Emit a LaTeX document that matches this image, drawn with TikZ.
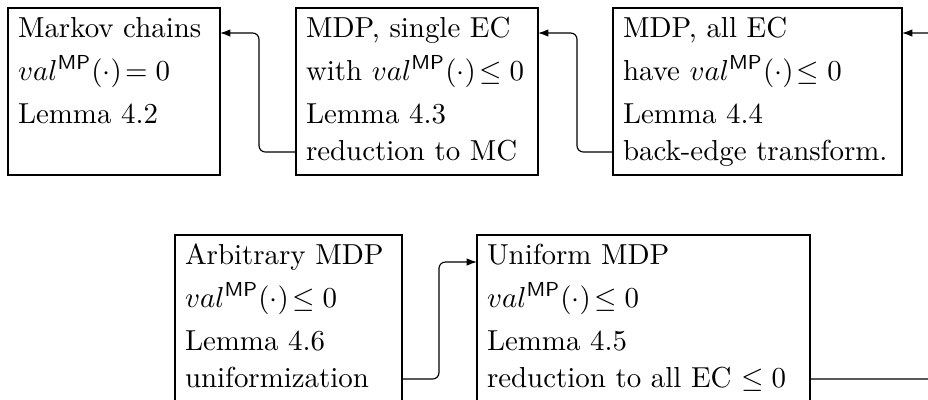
\documentclass[tikz,border=0pt]{standalone}
\usetikzlibrary{arrows.meta,fit}
\begin{document}
\begin{tikzpicture}[x=0.346pt,y=-0.346pt,
  box/.style={draw, inner sep=0pt, outer sep=0pt, line width=0.4pt},
  txt/.style={anchor=base west, inner sep=0pt, outer sep=0pt},
  conn/.style={draw, line width=0.4pt, rounded corners=2.2pt, -{Latex[length=3.6pt,width=2.6pt]}}]
\useasboundingbox (0,0) rectangle (928,399);
\clip (0,0) rectangle (928,399);
% boxes
\node[box, fit={(8,8) (220,175)}] (b1) {};
\node[box, fit={(296,8) (538,175)}] (b2) {};
\node[box, fit={(613,8) (902,175)}] (b3) {};
\node[box, fit={(175,235) (402,402)}] (b4) {};
\node[box, fit={(477,235) (810,402)}] (b5) {};
% texts box 1
\node[txt] (t11) at (18,37) {Markov chains};
\node[txt] (t12) at (18,80) {$val^{\mathsf{MP}}(\cdot)\!= 0$};
\node[txt] (t13) at (18,123) {Lemma 4.2};
% box 2
\node[txt] (t21) at (306,37) {MDP, single EC};
\node[txt] (t22) at (306,80) {with $val^{\mathsf{MP}}(\cdot)\!\leq 0$};
\node[txt] (t23) at (306,123) {Lemma 4.3};
\node[txt] (t24) at (306,160) {reduction to MC};
% box 3
\node[txt] (t31) at (623,37) {MDP, all EC};
\node[txt] (t32) at (623,80) {have $val^{\mathsf{MP}}(\cdot)\!\leq 0$};
\node[txt] (t33) at (623,123) {Lemma 4.4};
\node[txt] (t34) at (623,160) {back-edge transform.};
% box 4
\node[txt] (t41) at (185,264) {Arbitrary MDP};
\node[txt] (t42) at (185,307) {$val^{\mathsf{MP}}(\cdot)\!\leq 0$};
\node[txt] (t43) at (185,350) {Lemma 4.6};
\node[txt] (t44) at (185,387) {uniformization};
% box 5
\node[txt] (t51) at (487,264) {Uniform MDP};
\node[txt] (t52) at (487,307) {$val^{\mathsf{MP}}(\cdot)\!\leq 0$};
\node[txt] (t53) at (487,350) {Lemma 4.5};
\node[txt] (t54) at (487,387) {reduction to all EC $\leq 0$};
% connectors
\coordinate (far) at (960,0);
\draw[conn] (b2.west |- 0,152) -- (259,152) -- (259,33) -- (b1.east |- 0,33);
\draw[conn] (b3.west |- 0,152) -- (577,152) -- (577,33) -- (b2.east |- 0,33);
\draw[conn] (b5.east |- 0,379) -- (far |- 0,379) -- (far |- 0,33) -- (b3.east |- 0,33);
\draw[conn] (b4.east |- 0,379) -- (439,379) -- (439,262) -- (b5.west |- 0,262);
\end{tikzpicture}
\end{document}
